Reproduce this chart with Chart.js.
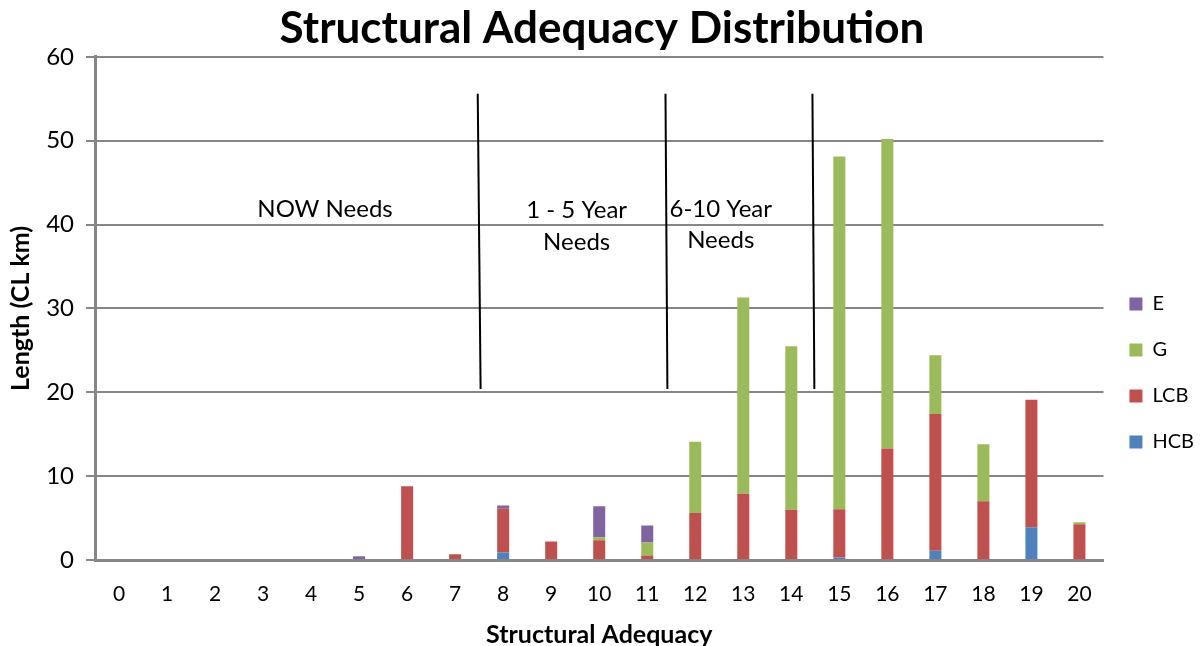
<!DOCTYPE html>
<html>
<head>
<meta charset="utf-8">
<script src="https://cdn.jsdelivr.net/npm/chart.js@4/dist/chart.umd.min.js"></script>
<style>
  html, body { margin: 0; padding: 0; background: #fff; }
  #wrap { width: 1200px; height: 646px; position: relative; }
</style>
</head>
<body>
<div id="wrap"><canvas id="chart_structuralAdequacy"></canvas></div>
<script>
var categories = ['0', '1', '2', '3', '4', '5', '6', '7', '8', '9', '10',
                  '11', '12', '13', '14', '15', '16', '17', '18', '19', '20'];
var hcbValues = [0, 0, 0, 0, 0, 0, 0, 0, 0.9, 0, 0, 0, 0, 0, 0, 0.3, 0, 1.1, 0, 3.9, 0];
var lcbValues = [0, 0, 0, 0, 0, 0, 8.8, 0.7, 5.2, 2.2, 2.35, 0.55, 5.6, 7.9, 6.0, 5.75, 13.3, 16.3, 7.0, 15.2, 4.25];
var gValues   = [0, 0, 0, 0, 0, 0, 0, 0, 0, 0, 0.35, 1.55, 8.5, 23.4, 19.5, 42.05, 36.9, 7.0, 6.8, 0, 0.25];
var eValues   = [0, 0, 0, 0, 0, 0.45, 0, 0, 0.4, 0, 3.7, 2.0, 0, 0, 0, 0, 0, 0, 0, 0, 0];
var yTicks = [0, 10, 20, 30, 40, 50, 60];

// need-period divider lines (category units, value units)
var dividerTopX    = [7.47, 11.38, 14.44];
var dividerBottomX = [7.53, 11.42, 14.48];
var dividerTopY = 55.6;
var dividerBottomY = 20.4;
var periodLabels = [
  { text: 'NOW Needs', x: 4.29, y: 41.8 },
  { text: '1 - 5 Year', x: 9.53, y: 41.7 },
  { text: 'Needs', x: 9.53, y: 37.9 },
  { text: '6-10 Year', x: 12.53, y: 41.8 },
  { text: 'Needs', x: 12.53, y: 38.1 }
];

var annotationPlugin = {
  id: 'needsAnnotations',
  afterDatasetsDraw: function (chart) {
    var ctx = chart.ctx;
    var xs = chart.scales.x, ys = chart.scales.y;
    ctx.save();
    ctx.strokeStyle = '#000';
    ctx.lineWidth = 2;
    for (var i = 0; i < dividerTopX.length; i++) {
      ctx.beginPath();
      ctx.moveTo(xs.getPixelForValue(dividerTopX[i]), ys.getPixelForValue(dividerTopY));
      ctx.lineTo(xs.getPixelForValue(dividerBottomX[i]), ys.getPixelForValue(dividerBottomY));
      ctx.stroke();
    }
    ctx.fillStyle = '#000';
    ctx.font = '24px Lato';
    ctx.textAlign = 'center';
    ctx.textBaseline = 'middle';
    periodLabels.forEach(function (l) {
      ctx.fillText(l.text, xs.getPixelForValue(l.x), ys.getPixelForValue(l.y));
    });
    ctx.restore();
  }
};

var chart_structuralAdequacy = new Chart(document.getElementById('chart_structuralAdequacy'), {
    type: 'bar',
    data: {
        labels: categories,
        datasets: [
            { label: 'HCB', data: hcbValues, backgroundColor: '#4F81BD' },
            { label: 'LCB', data: lcbValues, backgroundColor: '#C0504D' },
            { label: 'G',   data: gValues,   backgroundColor: '#9BBB59' },
            { label: 'E',   data: eValues,   backgroundColor: '#8064A2' }
        ]
    },
    options: {
        animation: false,
        responsive: true,
        maintainAspectRatio: false,
        datasets: {
            bar: { barPercentage: 0.5, categoryPercentage: 0.5, borderWidth: 0 }
        },
        layout: { padding: { left: 0, right: -4, top: 0, bottom: 0 } },
        plugins: {
            title: {
                display: true,
                text: 'Structural Adequacy Distribution',
                color: '#000',
                font: { family: 'Lato', size: 44, weight: 'bold' },
                padding: { top: 2, bottom: 2 }
            },
            legend: {
                position: 'right',
                reverse: true,
                title: {
                    display: true,
                    text: ' ',
                    font: { size: 10 },
                    padding: { top: 0, bottom: 88 }
                },
                labels: {
                    color: '#000',
                    font: { family: 'Lato', size: 20 },
                    boxWidth: 13,
                    boxHeight: 13,
                    padding: 26
                }
            },
            tooltip: { enabled: false }
        },
        scales: {
            x: {
                stacked: true,
                grid: { display: false },
                border: { display: true, color: '#868686', width: 3 },
                ticks: { color: '#000', font: { family: 'Lato', size: 21 }, padding: 14, maxRotation: 0 },
                title: {
                    display: true,
                    text: 'Structural Adequacy',
                    color: '#000',
                    font: { family: 'Lato', size: 25, weight: 'bold' },
                    padding: { top: 4, bottom: -4 }
                },
                afterFit: function (scale) { scale.height = 86; }
            },
            y: {
                stacked: true,
                min: 0,
                max: 60,
                afterBuildTicks: function (scale) {
                    scale.ticks = yTicks.map(function (v) { return { value: v }; });
                },
                grid: { color: '#868686', lineWidth: 2, tickLength: 9 },
                border: { display: true, color: '#868686', width: 3 },
                ticks: { color: '#000', font: { family: 'Lato', size: 24 }, padding: 12 },
                title: {
                    display: true,
                    text: 'Length (CL km)',
                    color: '#000',
                    font: { family: 'Lato', size: 25, weight: 'bold' },
                    padding: { top: 6, bottom: 4 }
                },
                afterFit: function (scale) { scale.width = 95; }
            }
        }
    },
    plugins: [annotationPlugin, {
        id: 'whiteBackground',
        beforeDraw: function (chart) {
            var ctx = chart.canvas.getContext('2d');
            ctx.save();
            ctx.globalCompositeOperation = 'destination-over';
            ctx.fillStyle = 'white';
            ctx.fillRect(0, 0, chart.canvas.width, chart.canvas.height);
            ctx.restore();
        }
    }]
});
</script>
</body>
</html>
